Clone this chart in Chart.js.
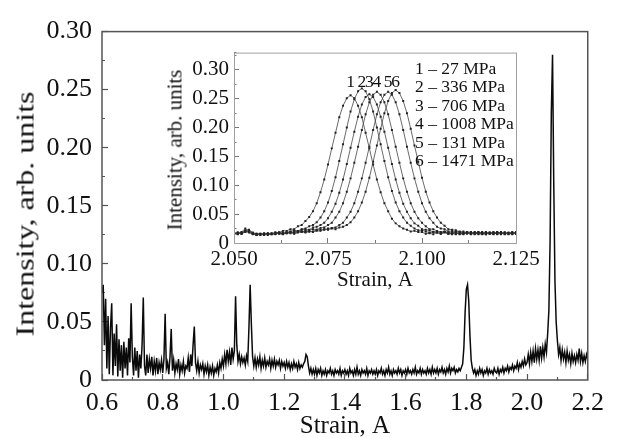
<!DOCTYPE html>
<html>
<head>
<meta charset="utf-8">
<script src="https://cdn.jsdelivr.net/npm/chart.js@4.4.1/dist/chart.umd.min.js"></script>
<style>
  html, body { margin: 0; padding: 0; background: #ffffff; }
  #wrap { position: relative; width: 618px; height: 438px; overflow: hidden; background: #ffffff; }
  #main { position: absolute; left: 0; top: 0; }
  #inset { position: absolute; left: 150px; top: 30px; }
  .ytitle { position: absolute; white-space: nowrap; line-height: 1; font-family: 'Liberation Serif', serif; color: #111; transform-origin: 50% 50%; }
</style>
</head>
<body>
<div id="wrap">
  <canvas id="main" width="618" height="438"></canvas>
  <canvas id="inset" width="400" height="270"></canvas>
  <div class="ytitle" id="mainYTitle" style="left:24.6px; top:214px; font-size:25px; transform: translate(-50%,-50%) rotate(-90deg) scale(1.28,1);"></div>
  <div class="ytitle" id="insetYTitle" style="left:175px; top:150px; font-size:21px; transform: translate(-50%,-50%) rotate(-90deg);"></div>
</div>
<script>
// ---------- Axis texts ----------
const mainXTitle = 'Strain, A';
const mainYTitle = 'Intensity, arb. units';
const insetXTitle = 'Strain, A';
const insetYTitle = 'Intensity, arb. units';

// ---------- Main spectrum ----------
const mainStrain = [
  0.600,0.604,0.608,0.612,0.616,0.620,0.624,0.628,0.632,0.636,0.640,0.644,0.648,0.652,0.656,0.660,0.664,0.668,0.672,0.676,0.680,0.684,0.688,0.692,0.696,
  0.700,0.704,0.708,0.712,0.716,0.720,0.724,0.728,0.732,0.736,0.740,0.744,0.748,0.752,0.756,0.760,0.764,0.768,0.772,0.776,0.780,0.784,0.788,0.792,0.796,
  0.800,0.804,0.808,0.812,0.816,0.820,0.824,0.828,0.832,0.836,0.840,0.844,0.848,0.852,0.856,0.860,0.864,0.868,0.872,0.876,0.880,0.884,0.888,0.892,0.896,
  0.900,0.904,0.908,0.912,0.916,0.920,0.924,0.928,0.932,0.936,0.940,0.944,0.948,0.952,0.956,0.960,0.964,0.968,0.972,0.976,0.980,0.984,0.988,0.992,0.996,
  1.000,1.004,1.008,1.012,1.016,1.020,1.024,1.028,1.032,1.036,1.040,1.044,1.048,1.052,1.056,1.060,1.064,1.068,1.072,1.076,1.080,1.084,1.088,1.092,1.096,
  1.100,1.104,1.108,1.112,1.116,1.120,1.124,1.128,1.132,1.136,1.140,1.144,1.148,1.152,1.156,1.160,1.164,1.168,1.172,1.176,1.180,1.184,1.188,1.192,1.196,
  1.200,1.204,1.208,1.212,1.216,1.220,1.224,1.228,1.232,1.236,1.240,1.244,1.248,1.252,1.256,1.260,1.264,1.268,1.272,1.276,1.280,1.284,1.288,1.292,1.296,
  1.300,1.304,1.308,1.312,1.316,1.320,1.324,1.328,1.332,1.336,1.340,1.344,1.348,1.352,1.356,1.360,1.364,1.368,1.372,1.376,1.380,1.384,1.388,1.392,1.396,
  1.400,1.404,1.408,1.412,1.416,1.420,1.424,1.428,1.432,1.436,1.440,1.444,1.448,1.452,1.456,1.460,1.464,1.468,1.472,1.476,1.480,1.484,1.488,1.492,1.496,
  1.500,1.504,1.508,1.512,1.516,1.520,1.524,1.528,1.532,1.536,1.540,1.544,1.548,1.552,1.556,1.560,1.564,1.568,1.572,1.576,1.580,1.584,1.588,1.592,1.596,
  1.600,1.604,1.608,1.612,1.616,1.620,1.624,1.628,1.632,1.636,1.640,1.644,1.648,1.652,1.656,1.660,1.664,1.668,1.672,1.676,1.680,1.684,1.688,1.692,1.696,
  1.700,1.704,1.708,1.712,1.716,1.720,1.724,1.728,1.732,1.736,1.740,1.744,1.748,1.752,1.756,1.760,1.764,1.768,1.772,1.776,1.780,1.784,1.788,1.792,1.796,
  1.800,1.804,1.808,1.812,1.816,1.820,1.824,1.828,1.832,1.836,1.840,1.844,1.848,1.852,1.856,1.860,1.864,1.868,1.872,1.876,1.880,1.884,1.888,1.892,1.896,
  1.900,1.904,1.908,1.912,1.916,1.920,1.924,1.928,1.932,1.936,1.940,1.944,1.948,1.952,1.956,1.960,1.964,1.968,1.972,1.976,1.980,1.984,1.988,1.992,1.996,
  2.000,2.004,2.008,2.012,2.016,2.020,2.024,2.028,2.032,2.036,2.040,2.044,2.048,2.052,2.056,2.060,2.064,2.068,2.072,2.076,2.080,2.084,2.088,2.092,2.096,
  2.100,2.104,2.108,2.112,2.116,2.120,2.124,2.128,2.132,2.136,2.140,2.144,2.148,2.152,2.156,2.160,2.164,2.168,2.172,2.176,2.180,2.184,2.188,2.192,2.196,
  2.200
];
const mainIntensity = [
  0.075,0.082,0.030,0.070,0.010,0.055,0.005,0.045,0.066,0.004,0.040,0.012,0.048,0.003,0.035,0.008,0.030,0.002,0.033,0.010,0.028,0.004,0.036,0.015,0.066,
  0.020,0.004,0.028,0.008,0.025,0.002,0.022,0.010,0.030,0.071,0.012,0.004,0.022,0.006,0.018,0.010,0.020,0.004,0.016,0.008,0.019,0.005,0.015,0.009,0.017,
  0.006,0.018,0.057,0.010,0.015,0.005,0.020,0.044,0.008,0.017,0.006,0.014,0.009,0.018,0.005,0.013,0.008,0.016,0.006,0.012,0.010,0.019,0.007,0.022,0.012,
  0.030,0.046,0.015,0.008,0.016,0.006,0.013,0.009,0.014,0.005,0.012,0.007,0.013,0.004,0.011,0.006,0.012,0.004,0.010,0.007,0.013,0.006,0.015,0.010,0.018,
  0.012,0.022,0.014,0.026,0.016,0.024,0.013,0.028,0.018,0.025,0.072,0.030,0.016,0.022,0.014,0.020,0.015,0.019,0.013,0.021,0.016,0.045,0.082,0.048,0.020,
  0.012,0.019,0.011,0.018,0.013,0.020,0.010,0.017,0.012,0.019,0.011,0.016,0.013,0.018,0.010,0.017,0.012,0.018,0.011,0.016,0.013,0.017,0.010,0.016,0.012,
  0.015,0.010,0.016,0.011,0.015,0.009,0.014,0.010,0.016,0.011,0.014,0.009,0.015,0.010,0.013,0.011,0.014,0.016,0.022,0.020,0.012,0.006,0.010,0.005,0.009,
  0.005,0.010,0.004,0.009,0.006,0.010,0.004,0.008,0.005,0.009,0.004,0.008,0.006,0.010,0.005,0.008,0.004,0.009,0.006,0.008,0.005,0.010,0.004,0.008,0.006,
  0.009,0.005,0.008,0.004,0.010,0.006,0.008,0.004,0.009,0.005,0.011,0.005,0.008,0.004,0.009,0.006,0.008,0.005,0.010,0.004,0.008,0.006,0.009,0.005,0.008,
  0.005,0.009,0.004,0.008,0.006,0.010,0.005,0.008,0.004,0.009,0.006,0.011,0.005,0.008,0.004,0.009,0.006,0.008,0.005,0.010,0.006,0.009,0.004,0.008,0.006,
  0.009,0.005,0.010,0.006,0.008,0.005,0.009,0.006,0.011,0.005,0.008,0.006,0.010,0.005,0.009,0.006,0.008,0.005,0.010,0.006,0.009,0.005,0.011,0.006,0.009,
  0.006,0.010,0.005,0.009,0.007,0.011,0.006,0.009,0.005,0.010,0.007,0.012,0.006,0.010,0.008,0.011,0.006,0.009,0.007,0.010,0.008,0.011,0.014,0.028,0.058,
  0.078,0.082,0.068,0.038,0.017,0.010,0.006,0.009,0.004,0.008,0.005,0.010,0.006,0.009,0.004,0.008,0.006,0.010,0.005,0.009,0.006,0.008,0.005,0.010,0.007,
  0.006,0.010,0.005,0.009,0.007,0.011,0.006,0.010,0.008,0.012,0.007,0.011,0.009,0.013,0.008,0.012,0.010,0.015,0.009,0.014,0.011,0.016,0.012,0.018,0.013,
  0.015,0.022,0.014,0.024,0.016,0.025,0.015,0.027,0.018,0.026,0.017,0.029,0.019,0.028,0.020,0.031,0.024,0.040,0.060,0.120,0.230,0.280,0.170,0.085,0.050,
  0.034,0.022,0.028,0.017,0.026,0.018,0.024,0.015,0.025,0.017,0.022,0.014,0.023,0.016,0.021,0.015,0.022,0.017,0.027,0.016,0.023,0.015,0.021,0.016,0.022,
  0.018
];

// ---------- Inset: peak profiles at different stresses ----------
const insetStrain = [
  2.050,2.051,2.052,2.053,2.054,2.055,2.056,2.057,2.058,2.059,
  2.060,2.061,2.062,2.063,2.064,2.065,2.066,2.067,2.068,2.069,
  2.070,2.071,2.072,2.073,2.074,2.075,2.076,2.077,2.078,2.079,
  2.080,2.081,2.082,2.083,2.084,2.085,2.086,2.087,2.088,2.089,
  2.090,2.091,2.092,2.093,2.094,2.095,2.096,2.097,2.098,2.099,
  2.100,2.101,2.102,2.103,2.104,2.105,2.106,2.107,2.108,2.109,
  2.110,2.111,2.112,2.113,2.114,2.115,2.116,2.117,2.118,2.119,
  2.120,2.121,2.122,2.123,2.124,2.125
];
const curve1 = [
  0.017,0.015,0.019,0.025,0.021,0.016,0.014,0.015,0.014,0.016,
  0.016,0.018,0.018,0.021,0.021,0.024,0.024,0.029,0.031,0.038,
  0.045,0.055,0.069,0.088,0.110,0.136,0.164,0.191,0.218,0.238,
  0.251,0.256,0.251,0.238,0.218,0.191,0.164,0.136,0.110,0.088,
  0.069,0.055,0.042,0.034,0.029,0.025,0.023,0.020,0.021,0.019,
  0.019,0.016,0.017,0.015,0.018,0.016,0.019,0.017,0.015,0.018,
  0.016,0.017,0.019,0.016,0.018,0.015,0.017,0.019,0.016,0.018,
  0.017,0.015,0.018,0.016,0.017,0.019
];
const curve2 = [
  0.016,0.018,0.016,0.022,0.023,0.017,0.015,0.016,0.014,0.015,
  0.017,0.016,0.018,0.018,0.018,0.020,0.022,0.021,0.024,0.025,
  0.029,0.031,0.036,0.044,0.055,0.070,0.090,0.114,0.142,0.171,
  0.200,0.228,0.249,0.263,0.268,0.263,0.249,0.228,0.200,0.171,
  0.142,0.114,0.090,0.070,0.055,0.044,0.035,0.030,0.025,0.022,
  0.022,0.020,0.018,0.019,0.018,0.016,0.018,0.016,0.017,0.019,
  0.015,0.017,0.018,0.016,0.019,0.017,0.015,0.018,0.016,0.017,
  0.019,0.016,0.018,0.015,0.017,0.018
];
const curve3 = [
  0.015,0.017,0.018,0.020,0.019,0.016,0.014,0.015,0.016,0.014,
  0.016,0.015,0.017,0.016,0.018,0.017,0.020,0.020,0.023,0.023,
  0.023,0.027,0.028,0.031,0.035,0.043,0.054,0.068,0.087,0.110,
  0.137,0.165,0.193,0.219,0.240,0.253,0.258,0.253,0.240,0.219,
  0.193,0.165,0.137,0.110,0.087,0.068,0.054,0.043,0.034,0.030,
  0.024,0.023,0.022,0.019,0.020,0.018,0.019,0.016,0.017,0.015,
  0.018,0.017,0.016,0.019,0.015,0.017,0.018,0.016,0.017,0.019,
  0.015,0.018,0.016,0.017,0.018,0.016
];
const curve4 = [
  0.016,0.016,0.017,0.021,0.018,0.015,0.016,0.014,0.015,0.016,
  0.015,0.017,0.016,0.015,0.017,0.018,0.016,0.018,0.020,0.019,
  0.022,0.024,0.023,0.026,0.027,0.031,0.035,0.044,0.054,0.069,
  0.089,0.112,0.139,0.167,0.196,0.223,0.244,0.257,0.262,0.257,
  0.244,0.223,0.196,0.167,0.139,0.112,0.089,0.069,0.054,0.043,
  0.035,0.029,0.024,0.024,0.021,0.019,0.020,0.018,0.019,0.016,
  0.017,0.015,0.018,0.016,0.017,0.019,0.016,0.015,0.018,0.017,
  0.016,0.018,0.015,0.017,0.019,0.016
];
const curve5 = [
  0.018,0.017,0.016,0.019,0.020,0.017,0.015,0.016,0.015,0.017,
  0.016,0.018,0.017,0.016,0.018,0.019,0.017,0.019,0.020,0.018,
  0.020,0.020,0.023,0.023,0.023,0.025,0.026,0.027,0.031,0.035,
  0.044,0.054,0.069,0.089,0.112,0.139,0.167,0.196,0.223,0.244,
  0.257,0.262,0.257,0.244,0.223,0.196,0.167,0.139,0.112,0.089,
  0.069,0.054,0.043,0.035,0.028,0.025,0.024,0.020,0.021,0.019,
  0.020,0.017,0.018,0.015,0.017,0.019,0.016,0.018,0.017,0.015,
  0.019,0.016,0.018,0.017,0.016,0.018
];
const curve6 = [
  0.016,0.018,0.017,0.020,0.022,0.018,0.016,0.015,0.017,0.016,
  0.015,0.017,0.018,0.016,0.017,0.019,0.018,0.020,0.019,0.021,
  0.020,0.019,0.021,0.021,0.024,0.023,0.025,0.024,0.027,0.028,
  0.031,0.036,0.044,0.055,0.070,0.089,0.113,0.141,0.169,0.198,
  0.225,0.246,0.260,0.265,0.260,0.246,0.225,0.198,0.169,0.141,
  0.113,0.089,0.070,0.055,0.044,0.035,0.030,0.024,0.023,0.022,
  0.019,0.020,0.018,0.019,0.016,0.017,0.019,0.015,0.018,0.016,
  0.017,0.019,0.016,0.018,0.015,0.017
];
const insetCurves = [curve1, curve2, curve3, curve4, curve5, curve6];
const curveNumbers = ['1', '2', '3', '4', '5', '6'];
const pressureLabels = ['1 – 27 MPa', '2 – 336 MPa', '3 – 706 MPa', '4 – 1008 MPa', '5 – 131 MPa', '6 – 1471 MPa'];

// ---------- Rendering ----------
const SERIF = "'Liberation Serif', 'Times New Roman', serif";
document.getElementById('mainYTitle').textContent = mainYTitle;
document.getElementById('insetYTitle').textContent = insetYTitle;

const isMultiple = (v, step) => Math.abs(Math.round(v / step) * step - v) < 1e-7;

const mainFrame = {
  id: 'mainFrame',
  afterDraw(chart) {
    const { ctx, chartArea: a } = chart;
    ctx.save();
    ctx.strokeStyle = '#555';
    ctx.lineWidth = 1.5;
    ctx.strokeRect(a.left, a.top, a.right - a.left, a.bottom - a.top);
    ctx.restore();
  }
};

new Chart(document.getElementById('main'), {
  type: 'line',
  data: {
    labels: mainStrain,
    datasets: [{
      data: mainIntensity,
      borderColor: '#0a0a0a',
      borderWidth: 1.5,
      pointRadius: 0,
      tension: 0,
      fill: false
    }]
  },
  options: {
    responsive: false,
    animation: false,
    events: [],
    layout: { padding: { top: 19, right: 24, left: 0, bottom: 0 } },
    plugins: { legend: { display: false }, tooltip: { enabled: false } },
    scales: {
      x: {
        type: 'linear',
        min: 0.6, max: 2.2,
        afterFit: s => { s.height = 58; },
        border: { display: false },
        grid: {
          drawOnChartArea: false, drawTicks: true, tickLength: -6,
          tickColor: '#555', tickWidth: 1.2,
          tickBorderDash: c => (c.tick && isMultiple(c.tick.value, 0.2)) ? [] : [3, 10]
        },
        ticks: {
          stepSize: 0.1, autoSkip: false, maxRotation: 0, padding: 14, color: '#111',
          font: { family: SERIF, size: 26 },
          callback: v => isMultiple(v, 0.2) ? v.toFixed(1) : ''
        },
        title: {
          display: true, text: mainXTitle, color: '#111',
          font: { family: SERIF, size: 25, lineHeight: 1 },
          padding: { top: 0, bottom: -1 }
        }
      },
      y: {
        min: 0, max: 0.3,
        afterFit: s => { s.width = 102; },
        border: { display: false },
        grid: {
          drawOnChartArea: false, drawTicks: true, tickLength: -6,
          tickColor: '#555', tickWidth: 1.2,
          tickBorderDash: c => (c.tick && isMultiple(c.tick.value, 0.05)) ? [] : [0, 3, 3, 10]
        },
        ticks: {
          stepSize: 0.025, autoSkip: false, padding: 16, color: '#111',
          font: { family: SERIF, size: 26 },
          callback: v => isMultiple(v, 0.05) ? (v === 0 ? '0' : v.toFixed(2)) : ''
        },
        title: { display: false }
      }
    }
  },
  plugins: [mainFrame]
});

const insetDecor = {
  id: 'insetDecor',
  afterDraw(chart) {
    const { ctx, chartArea: a, scales } = chart;
    ctx.save();
    ctx.strokeStyle = '#a0a0a0';
    ctx.lineWidth = 1;
    ctx.strokeRect(a.left + 0.5, a.top + 0.5, a.right - a.left, a.bottom - a.top);
    ctx.fillStyle = '#111';
    ctx.font = '17.5px ' + SERIF;
    ctx.textBaseline = 'middle';
    ctx.textAlign = 'left';
    pressureLabels.forEach((t, k) => ctx.fillText(t, a.right - 101, a.top + 16.5 + 18.5 * k));
    ctx.textAlign = 'center';
    chart.data.datasets.forEach((ds, k) => {
      let im = 0;
      ds.data.forEach((v, i) => { if (v > ds.data[im]) im = i; });
      ctx.fillText(curveNumbers[k], scales.x.getPixelForValue(insetStrain[im]), scales.y.getPixelForValue(0.278));
    });
    ctx.restore();
  }
};

new Chart(document.getElementById('inset'), {
  type: 'line',
  data: {
    labels: insetStrain,
    datasets: insetCurves.map((c, k) => ({
      label: pressureLabels[k],
      data: c,
      borderColor: '#444',
      borderWidth: 0.8,
      pointStyle: 'rect',
      pointRadius: 1.4,
      pointBackgroundColor: '#222',
      pointBorderColor: '#222',
      pointBorderWidth: 0,
      tension: 0,
      fill: false
    }))
  },
  options: {
    responsive: false,
    animation: false,
    events: [],
    layout: { padding: { top: 11, right: 34, left: 0, bottom: 0 } },
    plugins: { legend: { display: false }, tooltip: { enabled: false } },
    scales: {
      x: {
        type: 'linear',
        min: 2.05, max: 2.125,
        afterFit: s => { s.height = 57; },
        border: { display: false },
        grid: {
          drawOnChartArea: false, drawTicks: true, tickLength: -5,
          tickColor: '#777', tickWidth: 1,
          tickBorderDash: c => (c.tick && isMultiple(c.tick.value - 2.05, 0.025)) ? [] : [3, 10]
        },
        ticks: {
          stepSize: 0.0125, autoSkip: false, maxRotation: 0, padding: 9, color: '#111',
          font: { family: SERIF, size: 21 },
          callback: v => isMultiple(v - 2.05, 0.025) ? v.toFixed(3) : ''
        },
        title: {
          display: true, text: insetXTitle, color: '#111',
          font: { family: SERIF, size: 21, lineHeight: 1 },
          padding: { top: 0, bottom: 9.5 }
        }
      },
      y: {
        min: 0, max: 0.33, bounds: 'data',
        afterFit: s => { s.width = 84; },
        border: { display: false },
        grid: {
          drawOnChartArea: false, drawTicks: true, tickLength: -5,
          tickColor: '#777', tickWidth: 1,
          tickBorderDash: c => (c.tick && isMultiple(c.tick.value, 0.05)) ? [] : [0, 2.5, 2.5, 10]
        },
        ticks: {
          stepSize: 0.025, autoSkip: false, includeBounds: false, padding: 10, color: '#111',
          font: { family: SERIF, size: 21 },
          callback: v => isMultiple(v, 0.05) ? (v === 0 ? '0' : v.toFixed(2)) : ''
        },
        title: { display: false }
      }
    }
  },
  plugins: [insetDecor]
});
</script>
</body>
</html>
